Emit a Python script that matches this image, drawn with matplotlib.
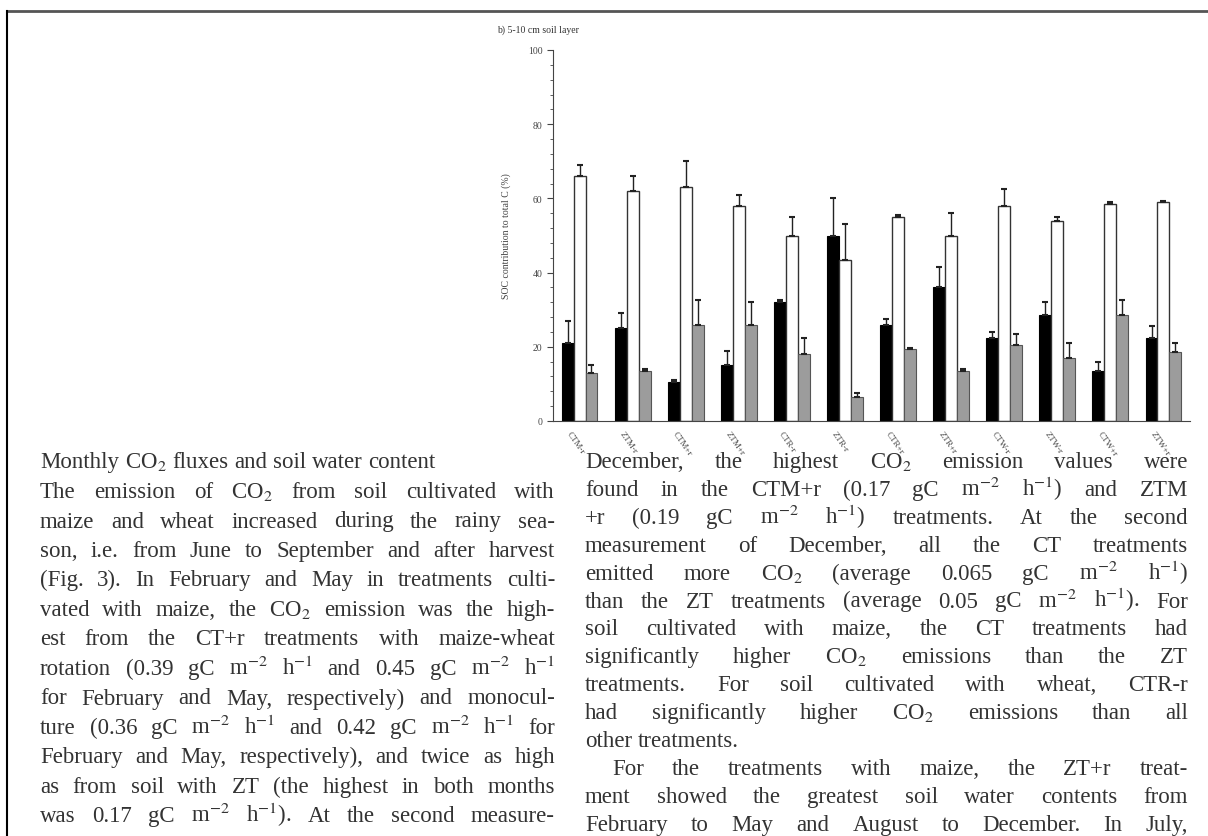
import matplotlib
matplotlib.use("Agg")
import numpy as np
import matplotlib.pyplot as plt
from matplotlib.lines import Line2D
from matplotlib.ticker import MultipleLocator

# SOC contribution to total C (%), 5-10 cm soil layer
categories = ["CTM-r", "ZTM-r", "CTM+r", "ZTM+r", "CTR-r", "ZTR-r",
              "CTR+r", "ZTR+r", "CTW-r", "ZTW-r", "CTW+r", "ZTW+r"]
black_vals = [21, 25, 10.5, 15, 32, 50, 26, 36, 22.5, 28.5, 13.5, 22.5]
black_err = [6, 4, 0.5, 4, 0.5, 10, 1.5, 5.5, 1.5, 3.5, 2.5, 3]
white_vals = [66, 62, 63, 58, 50, 43.5, 55, 50, 58, 54, 58.5, 59]
white_err = [3, 4, 7, 3, 5, 9.5, 0.5, 6, 4.5, 1, 0.5, 0.3]
gray_vals = [13, 13.5, 26, 26, 18, 6.5, 19.5, 13.5, 20.5, 17, 28.5, 18.5]
gray_err = [2, 0.5, 6.5, 6, 4.5, 1, 0.3, 0.5, 3, 4, 4, 2.5]

heading = "Monthly CO$_2$ fluxes and soil water content"
left_lines = [
    "The emission of CO$_2$ from soil cultivated with",
    "maize and wheat increased during the rainy sea-",
    "son, i.e. from June to September and after harvest",
    "(Fig. 3). In February and May in treatments culti-",
    "vated with maize, the CO$_2$ emission was the high-",
    "est from the CT+r treatments with maize-wheat",
    "rotation (0.39 gC m$^{-2}$ h$^{-1}$ and 0.45 gC m$^{-2}$ h$^{-1}$",
    "for February and May, respectively) and monocul-",
    "ture (0.36 gC m$^{-2}$ h$^{-1}$ and 0.42 gC m$^{-2}$ h$^{-1}$ for",
    "February and May, respectively), and twice as high",
    "as from soil with ZT (the highest in both months",
    "was 0.17 gC m$^{-2}$ h$^{-1}$). At the second measure-",
]
right_lines = [
    "December, the highest CO$_2$ emission values were",
    "found in the CTM+r (0.17 gC m$^{-2}$ h$^{-1}$) and ZTM",
    "+r (0.19 gC m$^{-2}$ h$^{-1}$) treatments. At the second",
    "measurement of December, all the CT treatments",
    "emitted more CO$_2$ (average 0.065 gC m$^{-2}$ h$^{-1}$)",
    "than the ZT treatments (average 0.05 gC m$^{-2}$ h$^{-1}$). For",
    "soil cultivated with maize, the CT treatments had",
    "significantly higher CO$_2$ emissions than the ZT",
    "treatments. For soil cultivated with wheat, CTR-r",
    "had significantly higher CO$_2$ emissions than all",
    "other treatments.",
    "For the treatments with maize, the ZT+r treat-",
    "ment showed the greatest soil water contents from",
    "February to May and August to December. In July,",
]

W, H = 1208, 837
plt.rcParams["font.family"] = ["Liberation Serif", "DejaVu Serif"]
plt.rcParams["mathtext.fontset"] = "stix"

fig = plt.figure(figsize=(W / 100, H / 100), dpi=100)
fig.patch.set_facecolor("white")


def fx(x):
    return x / W


def fy(y):
    return 1 - y / H


# page frame of the scan
fig.add_artist(Line2D([fx(7), 1], [fy(12), fy(12)], color="#555555", lw=2))
fig.add_artist(Line2D([fx(7), fx(7)], [fy(12), 0], color="black", lw=1.5))

# bar chart
ax = fig.add_axes([fx(553), fy(422), (1190 - 553) / W, (422 - 51) / H])
x = np.arange(len(categories))
w = 0.225
zeros = np.zeros(len(x))
ekw = dict(lw=1, capthick=1.5, ecolor="#222222")
ax.bar(x - w, black_vals, w, color="black", edgecolor="black", lw=0.8,
       yerr=[zeros, black_err], capsize=2.5, error_kw=ekw)
ax.bar(x, white_vals, w, color="white", edgecolor="#333333", lw=1,
       yerr=[zeros, white_err], capsize=2.5, error_kw=ekw)
ax.bar(x + w, gray_vals, w, color="#9c9c9c", edgecolor="#555555", lw=0.8,
       yerr=[zeros, gray_err], capsize=2.5, error_kw=ekw)

ax.set_xlim(-0.5, 11.5)
ax.set_ylim(0, 100)
ax.yaxis.set_major_locator(MultipleLocator(20))
ax.yaxis.set_minor_locator(MultipleLocator(4))
ax.spines["top"].set_visible(False)
ax.spines["right"].set_visible(False)
ax.spines["left"].set_color("#444444")
ax.spines["bottom"].set_color("#444444")
ax.tick_params(axis="y", labelsize=7, colors="#444444", length=4)
ax.tick_params(axis="y", which="minor", length=2.5, colors="#444444")
ax.set_xticks(x - 0.15)
ax.set_xticklabels(categories, rotation=-55, ha="left", va="top",
                   rotation_mode="anchor", fontsize=6.5, color="#444444")
ax.tick_params(axis="x", length=0, pad=6)
ax.set_ylabel("SOC contribution to total C (%)", fontsize=7, color="#444444",
              labelpad=12)
fig.text(fx(497), fy(30), "b) 5-10 cm soil layer", fontsize=7,
         color="#333333", va="center")

# page text, justified word by word
BASE = 16.5
renderer = fig.canvas.get_renderer()


def put_line(line, x0, x1, y, justify=True):
    words = line.split()
    size = BASE
    texts = [fig.text(0, fy(y), wd, fontsize=size, color="#333333",
                      va="baseline") for wd in words]
    widths = [t.get_window_extent(renderer).width for t in texts]
    space = size * 100 / 72 * 0.25
    need = sum(widths) + space * (len(words) - 1)
    if need > x1 - x0:
        # squeeze the line, as the scan does
        scale = (x1 - x0) / need
        size *= scale
        for t in texts:
            t.set_fontsize(size)
        widths = [wd * scale for wd in widths]
        space *= scale
    if justify and len(words) > 1:
        gap = (x1 - x0 - sum(widths)) / (len(words) - 1)
    else:
        gap = space
    pos = x0
    for t, wd in zip(texts, widths):
        t.set_x(fx(pos))
        pos += wd + gap


put_line(heading, 40, 555, 468, justify=False)
for i, line in enumerate(left_lines):
    put_line(line, 40, 555, 498 + 29.5 * i)

for i, line in enumerate(right_lines):
    y = 468 + 27.9 * i
    if i == 10:
        put_line(line, 585, 1188, y, justify=False)
    elif i == 11:
        put_line(line, 612, 1188, y)
    else:
        put_line(line, 585, 1188, y)

fig.savefig("out.png", dpi=100)
